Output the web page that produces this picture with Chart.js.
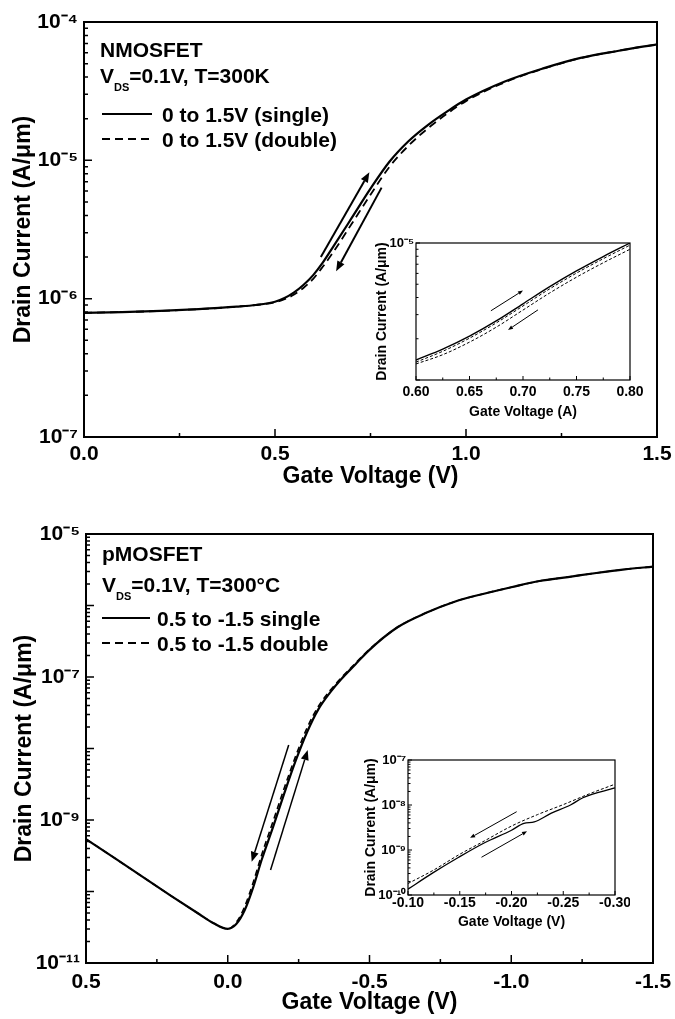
<!DOCTYPE html>
<html>
<head>
<meta charset="utf-8">
<title>Drain current vs gate voltage</title>
<script src="https://cdn.jsdelivr.net/npm/chart.js@4.4.1/dist/chart.umd.min.js"></script>
<style>
  body { margin: 0; background: #fff; }
  #page { position: relative; width: 675px; height: 1019px; overflow: hidden; background: #fff; }
  #page canvas { position: absolute; }
</style>
</head>
<body>
<div id="page">
  <canvas id="nChart" width="675" height="490" style="left:0;top:0"></canvas>
  <canvas id="pChart" width="675" height="529" style="left:0;top:490px"></canvas>
  <canvas id="nInset" width="275" height="200" style="left:370px;top:230px"></canvas>
  <canvas id="pInset" width="275" height="200" style="left:355px;top:745px"></canvas>
</div>
<script>
// ---- nMOSFET, main plot (V, A/um)
var nVg = [0.0, 0.1, 0.2, 0.3, 0.4, 0.45, 0.5, 0.525, 0.55, 0.575, 0.6, 0.625, 0.65, 0.7, 0.75, 0.8, 0.85, 0.9, 0.95, 1.0, 1.1, 1.2, 1.3, 1.4, 1.5];
var nIdSingle = [7.9e-7, 8.0e-7, 8.15e-7, 8.4e-7, 8.75e-7, 9.0e-7, 9.5e-7, 1.01e-6, 1.11e-6, 1.26e-6, 1.48e-6, 1.82e-6, 2.32e-6, 3.8e-6, 6.24e-6, 9.8e-6, 1.38e-5, 1.8e-5, 2.25e-5, 2.75e-5, 3.7e-5, 4.6e-5, 5.5e-5, 6.2e-5, 6.9e-5];
var nIdDouble = [7.9e-7, 8.0e-7, 8.15e-7, 8.4e-7, 8.75e-7, 9.0e-7, 9.4e-7, 9.9e-7, 1.07e-6, 1.2e-6, 1.39e-6, 1.7e-6, 2.12e-6, 3.45e-6, 5.65e-6, 9.0e-6, 1.28e-5, 1.7e-5, 2.17e-5, 2.68e-5, 3.65e-5, 4.57e-5, 5.48e-5, 6.2e-5, 6.9e-5];
var nXTicks = [0, 0.25, 0.5, 0.75, 1.0, 1.25, 1.5];
var nXLabels = ['0.0', '', '0.5', '', '1.0', '', '1.5'];
var nYExp = [-7, -4];
var nYLabelExp = [-7, -6, -5, -4];
var nArrows = [[0.620, 2.0e-6, 0.747, 8.2e-6], [0.779, 6.35e-6, 0.660, 1.58e-6]];

// ---- nMOSFET inset
var nInVg = [0.60, 0.625, 0.65, 0.675, 0.70, 0.725, 0.75, 0.775, 0.80];
var nInSingle = [1.4e-6, 1.68e-6, 2.09e-6, 2.7e-6, 3.6e-6, 4.8e-6, 6.25e-6, 7.96e-6, 1.0e-5];
var nInDoubleFwd = [1.35e-6, 1.62e-6, 2.02e-6, 2.61e-6, 3.47e-6, 4.63e-6, 6.03e-6, 7.68e-6, 9.65e-6];
var nInDoubleRev = [1.31e-6, 1.53e-6, 1.89e-6, 2.43e-6, 3.24e-6, 4.32e-6, 5.63e-6, 7.17e-6, 9.0e-6];
var nInXTicks = [0.60, 0.625, 0.65, 0.675, 0.70, 0.725, 0.75, 0.775, 0.80];
var nInXLabels = ['0.60', '', '0.65', '', '0.70', '', '0.75', '', '0.80'];
var nInYExp = [-6, -5];
var nInYLabelExp = [-5];
var nInArrows = [[0.670, 3.2e-6, 0.700, 4.5e-6], [0.714, 3.25e-6, 0.686, 2.32e-6]];

// ---- pMOSFET, main plot
var pVg = [0.5, 0.4, 0.3, 0.2, 0.1, 0.05, 0.0, -0.03, -0.06, -0.09, -0.12, -0.16, -0.2, -0.24, -0.28, -0.32, -0.36, -0.4, -0.45, -0.5, -0.6, -0.7, -0.8, -0.9, -1.0, -1.1, -1.2, -1.3, -1.4, -1.5];
var pIdSingle = [5.4e-10, 2.95e-10, 1.6e-10, 8.7e-11, 4.8e-11, 3.6e-11, 3.0e-11, 3.5e-11, 5.5e-11, 1.15e-10, 2.8e-10, 8.0e-10, 2.4e-9, 6.8e-9, 1.7e-8, 3.55e-8, 6.0e-8, 9.3e-8, 1.5e-7, 2.4e-7, 5.0e-7, 7.9e-7, 1.13e-6, 1.45e-6, 1.8e-6, 2.2e-6, 2.5e-6, 2.85e-6, 3.2e-6, 3.5e-6];
var pIdDouble = [5.4e-10, 2.95e-10, 1.6e-10, 8.7e-11, 4.8e-11, 3.6e-11, 3.0e-11, 3.7e-11, 6.2e-11, 1.35e-10, 3.3e-10, 9.6e-10, 2.85e-9, 7.9e-9, 1.95e-8, 3.9e-8, 6.4e-8, 9.7e-8, 1.55e-7, 2.45e-7, 5.0e-7, 7.9e-7, 1.13e-6, 1.45e-6, 1.8e-6, 2.2e-6, 2.5e-6, 2.85e-6, 3.2e-6, 3.5e-6];
var pXTicks = [0.5, 0.25, 0.0, -0.25, -0.5, -0.75, -1.0, -1.25, -1.5];
var pXLabels = ['0.5', '', '0.0', '', '-0.5', '', '-1.0', '', '-1.5'];
var pYExp = [-11, -5];
var pYLabelExp = [-11, -9, -7, -5];
var pArrows = [[-0.215, 1.12e-8, -0.0845, 2.6e-10], [-0.151, 2.0e-10, -0.282, 9.5e-9]];

// ---- pMOSFET inset
var pInVgSingle = [-0.10, -0.124, -0.149, -0.174, -0.20, -0.212, -0.222, -0.238, -0.257, -0.269, -0.30];
var pInSingle = [1.35e-10, 3.1e-10, 6.9e-10, 1.45e-9, 2.75e-9, 3.9e-9, 4.2e-9, 6.5e-9, 1.0e-8, 1.45e-8, 2.4e-8];
var pInVgDouble = [-0.10, -0.124, -0.149, -0.174, -0.20, -0.225, -0.25, -0.276, -0.30];
var pInDouble = [1.8e-10, 3.5e-10, 7.8e-10, 1.6e-9, 3.4e-9, 6.1e-9, 1.02e-8, 1.8e-8, 2.9e-8];
var pInXTicks = [-0.10, -0.125, -0.15, -0.175, -0.20, -0.225, -0.25, -0.275, -0.30];
var pInXLabels = ['-0.10', '', '-0.15', '', '-0.20', '', '-0.25', '', '-0.30'];
var pInYExp = [-10, -7];
var pInYLabelExp = [-10, -9, -8, -7];
var pInArrows = [[-0.205, 7.1e-9, -0.160, 1.86e-9], [-0.171, 6.9e-10, -0.215, 2.6e-9]];

var FAMILY = '"Liberation Sans", Arial, Helvetica, sans-serif';
var SUP = { '-': '\u207B', '0': '\u2070', '1': '\u00B9', '2': '\u00B2', '3': '\u00B3', '4': '\u2074', '5': '\u2075', '6': '\u2076', '7': '\u2077', '8': '\u2078', '9': '\u2079' };

function powLabel(e) {
    return '10' + String(e).split('').map(function (c) { return SUP[c]; }).join('');
}

function logTicks(range, labelled) {
    var out = [];
    for (var e = range[0]; e <= range[1]; e++) {
        for (var m = 1; m <= 9; m++) {
            if (e === range[1] && m > 1) break;
            out.push({ value: m * Math.pow(10, e), major: m === 1, lbl: (m === 1 && labelled.indexOf(e) >= 0) ? powLabel(e) : '' });
        }
    }
    return out;
}

function pts(xs, ys) {
    return xs.map(function (x, i) { return { x: x, y: ys[i] }; });
}

function font(size) {
    return { family: FAMILY, size: size, weight: 'bold' };
}

function xAxis(o) {
    return {
        type: 'linear', min: o.min, max: o.max, reverse: !!o.reverse,
        afterBuildTicks: function (s) {
            s.ticks = o.ticks.map(function (v, i) { return { value: v, major: o.labels[i] !== '', lbl: o.labels[i] }; });
        },
        afterFit: function (s) { s.height = o.height; s.paddingLeft = 0; s.paddingRight = 0; },
        grid: { display: false, drawTicks: false },
        border: { display: false },
        ticks: { autoSkip: false, maxRotation: 0, padding: o.tickPad, color: '#000', font: font(o.tickSize),
                 callback: function (v, i, t) { return t[i].lbl; } },
        title: { display: true, text: o.title, color: '#000', font: font(o.titleSize), padding: { top: 0, bottom: o.titlePad } }
    };
}

function yAxis(o) {
    return {
        type: 'logarithmic', min: Math.pow(10, o.exp[0]), max: Math.pow(10, o.exp[1]),
        afterBuildTicks: function (s) { s.ticks = logTicks(o.exp, o.labelExp); },
        afterFit: function (s) { s.width = o.width; s.paddingTop = 0; s.paddingBottom = 0; },
        grid: { display: false, drawTicks: false },
        border: { display: false },
        ticks: { autoSkip: false, padding: o.tickPad, color: '#000', font: font(o.tickSize),
                 callback: function (v, i, t) { return t[i].lbl; } },
        title: { display: true, text: 'Drain Current (A/\u03BCm)', color: '#000', font: font(o.titleSize), padding: { top: o.titlePad, bottom: 0 } }
    };
}

// frame and inward tick marks
function frameTicks(frame, tickW, major, minor) {
    return {
        id: 'frameTicks',
        afterDraw: function (chart) {
            var ctx = chart.ctx, a = chart.chartArea, xs = chart.scales.x, ys = chart.scales.y;
            ctx.save();
            ctx.strokeStyle = '#000';
            ctx.lineWidth = tickW;
            ctx.beginPath();
            xs.ticks.forEach(function (t) {
                var px = xs.getPixelForValue(t.value);
                ctx.moveTo(px, a.bottom);
                ctx.lineTo(px, a.bottom - (t.major ? major : minor));
            });
            ys.ticks.forEach(function (t) {
                var py = ys.getPixelForValue(t.value);
                ctx.moveTo(a.left, py);
                ctx.lineTo(a.left + (t.major ? major : minor), py);
            });
            ctx.stroke();
            ctx.lineWidth = frame;
            ctx.strokeRect(a.left, a.top, a.right - a.left, a.bottom - a.top);
            ctx.restore();
        }
    };
}

function arrows(list, width, head, half) {
    return {
        id: 'arrows',
        afterDatasetsDraw: function (chart) {
            var ctx = chart.ctx, xs = chart.scales.x, ys = chart.scales.y;
            ctx.save();
            ctx.strokeStyle = '#000';
            ctx.fillStyle = '#000';
            ctx.lineWidth = width;
            list.forEach(function (ar) {
                var x1 = xs.getPixelForValue(ar[0]), y1 = ys.getPixelForValue(ar[1]);
                var x2 = xs.getPixelForValue(ar[2]), y2 = ys.getPixelForValue(ar[3]);
                var ang = Math.atan2(y2 - y1, x2 - x1);
                var bx = x2 - head * Math.cos(ang), by = y2 - head * Math.sin(ang);
                ctx.beginPath();
                ctx.moveTo(x1, y1);
                ctx.lineTo(bx, by);
                ctx.stroke();
                ctx.beginPath();
                ctx.moveTo(x2, y2);
                ctx.lineTo(bx + half * Math.sin(ang), by - half * Math.cos(ang));
                ctx.lineTo(bx - half * Math.sin(ang), by + half * Math.cos(ang));
                ctx.closePath();
                ctx.fill();
            });
            ctx.restore();
        }
    };
}

// device name, bias condition and legend written inside the plot
function notes(n) {
    return {
        id: 'notes',
        afterDraw: function (chart) {
            var ctx = chart.ctx, a = chart.chartArea;
            var x = a.left + n.x;
            ctx.save();
            ctx.fillStyle = '#000';
            ctx.strokeStyle = '#000';
            ctx.textBaseline = 'alphabetic';
            ctx.font = 'bold ' + n.size + 'px ' + FAMILY;
            ctx.fillText(n.device, x, a.top + n.deviceY);
            var cy = a.top + n.condY;
            ctx.fillText('V', x, cy);
            var w = ctx.measureText('V').width;
            ctx.font = 'bold ' + n.subSize + 'px ' + FAMILY;
            ctx.fillText('DS', x + w, cy + n.subDy);
            w += ctx.measureText('DS').width;
            ctx.font = 'bold ' + n.size + 'px ' + FAMILY;
            ctx.fillText(n.cond, x + w, cy);
            n.legendY.forEach(function (ly, i) {
                var ds = chart.data.datasets[i];
                ctx.lineWidth = 2;
                ctx.setLineDash(n.legendDash[i]);
                ctx.beginPath();
                ctx.moveTo(a.left + n.lineX[0], a.top + ly - n.lineUp);
                ctx.lineTo(a.left + n.lineX[1], a.top + ly - n.lineUp);
                ctx.stroke();
                ctx.setLineDash([]);
                ctx.fillText(ds.label, a.left + n.textX, a.top + ly);
            });
            ctx.restore();
        }
    };
}

function lineSet(label, data, width, dash) {
    return {
        label: label, data: data, borderColor: '#000', backgroundColor: '#000',
        borderWidth: width, borderDash: dash, pointRadius: 0, fill: false,
        cubicInterpolationMode: 'monotone'
    };
}

function baseOptions(pad, x, y) {
    return {
        responsive: false, animation: false, events: [],
        layout: { padding: { top: pad[0], right: pad[1], bottom: 0, left: 0 } },
        plugins: { legend: { display: false }, tooltip: { enabled: false } },
        scales: { x: x, y: y }
    };
}

// nMOSFET main
new Chart(document.getElementById('nChart').getContext('2d'), {
    type: 'line',
    data: { datasets: [
        lineSet('0 to 1.5V (single)', pts(nVg, nIdSingle), 2.2, []),
        lineSet('0 to 1.5V (double)', pts(nVg, nIdDouble), 1.8, [8, 5])
    ] },
    options: baseOptions([22, 18],
        xAxis({ min: 0, max: 1.5, ticks: nXTicks, labels: nXLabels, height: 53, tickPad: 5, tickSize: 21, title: 'Gate Voltage (V)', titleSize: 23, titlePad: 0 }),
        yAxis({ exp: nYExp, labelExp: nYLabelExp, width: 84, tickPad: 6, tickSize: 21, titleSize: 23, titlePad: 10 })),
    plugins: [frameTicks(2, 1.5, 8, 4), arrows(nArrows, 2, 10, 4),
        notes({ x: 16, size: 21, subSize: 11, device: 'NMOSFET', deviceY: 35, cond: '=0.1V, T=300K', condY: 61, subDy: 8,
                legendY: [100, 125], legendDash: [[], [8, 5]], lineX: [18, 68], lineUp: 8, textX: 78 })]
});

// pMOSFET main
new Chart(document.getElementById('pChart').getContext('2d'), {
    type: 'line',
    data: { datasets: [
        lineSet('0.5 to -1.5 single', pts(pVg, pIdSingle), 2.2, []),
        lineSet('0.5 to -1.5 double', pts(pVg, pIdDouble), 1.6, [6, 4])
    ] },
    options: baseOptions([44, 22],
        xAxis({ min: -1.5, max: 0.5, reverse: true, ticks: pXTicks, labels: pXLabels, height: 56, tickPad: 7, tickSize: 21, title: 'Gate Voltage (V)', titleSize: 23, titlePad: 3 }),
        yAxis({ exp: pYExp, labelExp: pYLabelExp, width: 86, tickPad: 6, tickSize: 21, titleSize: 23, titlePad: 11 })),
    plugins: [frameTicks(2, 1.5, 8, 4), arrows(pArrows, 1.5, 10, 4),
        notes({ x: 16, size: 21, subSize: 11, device: 'pMOSFET', deviceY: 27, cond: '=0.1V, T=300\u00B0C', condY: 58, subDy: 8,
                legendY: [92, 117], legendDash: [[], [8, 5]], lineX: [16, 64], lineUp: 8, textX: 71 })]
});

// nMOSFET inset
new Chart(document.getElementById('nInset').getContext('2d'), {
    type: 'line',
    data: { datasets: [
        lineSet('single', pts(nInVg, nInSingle), 1.4, []),
        lineSet('double forward', pts(nInVg, nInDoubleFwd), 1, [3, 2]),
        lineSet('double reverse', pts(nInVg, nInDoubleRev), 1, [3, 2])
    ] },
    options: baseOptions([13, 15],
        xAxis({ min: 0.6, max: 0.8, ticks: nInXTicks, labels: nInXLabels, height: 50, tickPad: 4, tickSize: 14, title: 'Gate Voltage (A)', titleSize: 14, titlePad: 9 }),
        yAxis({ exp: nInYExp, labelExp: nInYLabelExp, width: 46, tickPad: 2, tickSize: 13, titleSize: 14, titlePad: 4 })),
    plugins: [frameTicks(1.2, 1, 4, 2.5), arrows(nInArrows, 1, 5, 2)]
});

// pMOSFET inset
new Chart(document.getElementById('pInset').getContext('2d'), {
    type: 'line',
    data: { datasets: [
        lineSet('single', pts(pInVgSingle, pInSingle), 1.3, []),
        lineSet('double', pts(pInVgDouble, pInDouble), 1, [3, 2])
    ] },
    options: baseOptions([15, 15],
        xAxis({ min: -0.3, max: -0.1, reverse: true, ticks: pInXTicks, labels: pInXLabels, height: 50, tickPad: 0, tickSize: 14, title: 'Gate Voltage (V)', titleSize: 14, titlePad: 14 }),
        yAxis({ exp: pInYExp, labelExp: pInYLabelExp, width: 53, tickPad: 2, tickSize: 13, titleSize: 14, titlePad: 8 })),
    plugins: [frameTicks(1.2, 1, 4, 2.5), arrows(pInArrows, 1, 5, 2)]
});
</script>
</body>
</html>
